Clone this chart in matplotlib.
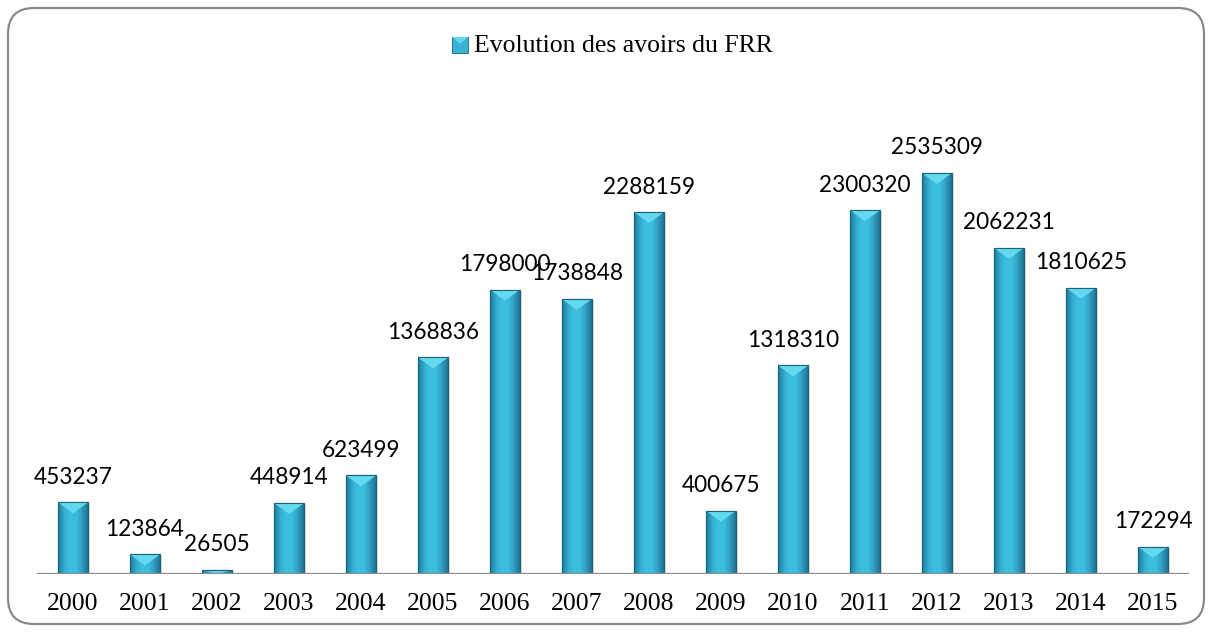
import numpy as np
import matplotlib.pyplot as plt
from matplotlib.patches import FancyBboxPatch, Polygon, Rectangle
from matplotlib.colors import LinearSegmentedColormap

years = ['2000', '2001', '2002', '2003', '2004', '2005', '2006', '2007',
         '2008', '2009', '2010', '2011', '2012', '2013', '2014', '2015']
avoirs = [453237, 123864, 26505, 448914, 623499, 1368836, 1798000, 1738848,
          2288159, 400675, 1318310, 2300320, 2535309, 2062231, 1810625, 172294]
serie = 'Evolution des avoirs du FRR'

W, H = 1213, 632
fig = plt.figure(figsize=(W / 100, H / 100), dpi=100)

# fond en pixels : cadre arrondi + legende
bg = fig.add_axes([0, 0, 1, 1], zorder=0)
bg.set_xlim(0, W)
bg.set_ylim(H, 0)
bg.axis('off')
bg.add_patch(FancyBboxPatch((8, 8), 1196, 616,
                            boxstyle='round,pad=0,rounding_size=26',
                            facecolor='white', edgecolor='#8a8a8a', lw=1.6))
bg.add_patch(Rectangle((452, 37), 16, 16, facecolor='#38b2d5',
                       edgecolor='#1d6378', lw=0.6))
bg.add_patch(Polygon([(452, 37), (468, 37), (460, 44)], closed=True,
                     facecolor='#62d9ef', edgecolor='none'))
bg.text(474, 46, serie, family='Liberation Serif', fontsize=18.5,
        va='center', ha='left')

ymax = 3000000
ax_h = ymax * 401 / 2535309
ax = fig.add_axes([37 / W, 58 / H, 1152 / W, ax_h / H], zorder=1)
ax.patch.set_alpha(0)
for s in ax.spines.values():
    s.set_visible(False)
ax.set_yticks([])
x = np.arange(len(years))

bw = 0.42
bars = ax.bar(x, avoirs, width=bw, color='#38b2d5', edgecolor='#1d6378',
              lw=0.8, zorder=3)

# degrade horizontal
cmap = LinearSegmentedColormap.from_list('b', ['#1f7d99', '#35acd0', '#3ec0e2',
                                               '#3cbbdd', '#2d9abd', '#1c6f89'])
grad = np.linspace(0, 1, 64).reshape(1, -1)
u = ymax / ax_h  # unites par pixel
for xi, v, b in zip(x, avoirs, bars):
    # ombre
    ax.add_patch(Rectangle((xi - bw / 2 + 0.03, 0), bw, v - 2 * u,
                           facecolor='#b0b0b0', alpha=0.35, lw=0, zorder=2))
    im = ax.imshow(grad, cmap=cmap, extent=(xi - bw / 2, xi + bw / 2, 0, v),
                   aspect='auto', zorder=3.5, interpolation='bicubic')
    im.set_clip_path(b)
    d = min(11 * u, v)
    tri = Polygon([(xi - bw / 2, v), (xi + bw / 2, v), (xi, v - d)],
                  closed=True, facecolor='#62d9ef', edgecolor='none', zorder=4)
    ax.add_patch(tri)
    tri.set_clip_path(b)
    ax.add_patch(Rectangle((xi - bw / 2, 0), bw, v, facecolor='none',
                           edgecolor='#1d6378', lw=0.8, zorder=5))
    ax.annotate(str(v), (xi, v), xytext=(0, 18), textcoords='offset points',
                ha='center', va='center', family='Lato', fontsize=16.3,
                zorder=6)

ax.axhline(0, color='#8c8c8c', lw=1.6, zorder=6)
ax.set_xlim(-0.5, 15.5)
ax.set_ylim(0, ymax)
ax.set_xticks(x, years, family='Liberation Serif', fontsize=18.5)
ax.tick_params(axis='x', length=0, pad=14)

fig.savefig('out.png', dpi=100)
